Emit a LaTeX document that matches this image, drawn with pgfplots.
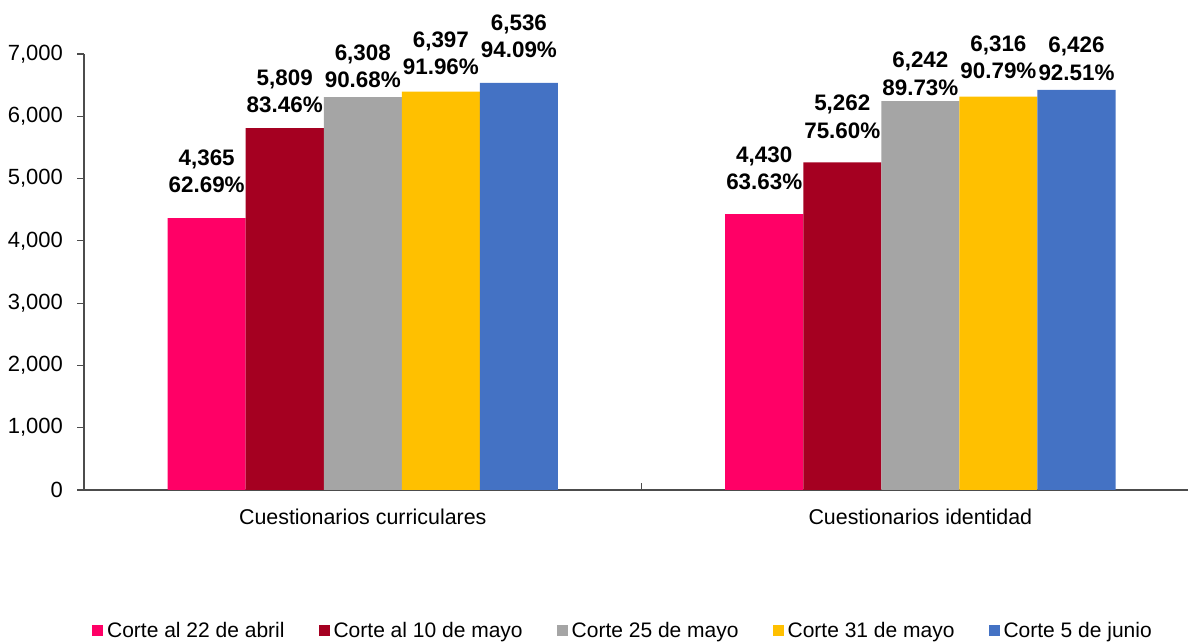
\documentclass[border=0pt]{standalone}
\usepackage{pgfplots}
\usepackage{pgfplotstable}
\pgfplotsset{compat=1.18}
\usepackage{fontspec}
\setmainfont{Liberation Sans}
\definecolor{cA}{HTML}{FF0066}
\definecolor{cB}{HTML}{A50021}
\definecolor{cC}{HTML}{A5A5A5}
\definecolor{cD}{HTML}{FFC000}
\definecolor{cE}{HTML}{4472C4}
\pgfplotstableread{
x y dy pct
-0.28 4365 23.5 62.69
0.72 4430 23 63.63
}\tA
\pgfplotstableread{
x y dy pct
-0.14 5809 18.5 83.46
0.86 5262 22.75 75.60
}\tB
\pgfplotstableread{
x y dy pct
0 6308 15.25 90.68
1 6242 13.75 89.73
}\tC
\pgfplotstableread{
x y dy pct
0.14 6397 19.25 91.96
1.14 6316 19.5 90.79
}\tD
\pgfplotstableread{
x y dy pct
0.28 6536 23.25 94.09
1.28 6426 15.5 92.51
}\tE
\pgfplotsset{
  mybar/.style={ybar, bar width=0.14, bar shift=0, draw=none,
    legend image code/.code={\fill[##1] (0pt,-2.75pt) rectangle (5.5pt,2.75pt);},
    point meta=y,
    visualization depends on={\thisrow{dy} \as \dy},
    visualization depends on={\thisrow{pct} \as \pct},
    nodes near coords={\pgfmathprintnumber{\pgfplotspointmeta}\\\pgfmathprintnumber[fixed,fixed zerofill,precision=2]{\pct}\%},
    every node near coord/.append style={anchor=center, yshift=\dy pt, align=center,
      font=\fontsize{11.2}{13.6}\selectfont\bfseries, text=black},
  },
}
\begin{document}
\begin{tikzpicture}
\useasboundingbox (0,0) rectangle (594pt,321pt);
\begin{axis}[
  at={(42pt,76pt)}, anchor=south west,
  scale only axis, width=552pt, height=218pt,
  xmin=-0.5, xmax=1.48, ymin=0, ymax=7000,
  clip=false,
  axis lines*=left,
  axis line style={black!70, line width=0.6pt},
  ytick={0,1000,...,7000},
  ytick align=outside, ytick pos=left,
  xtick align=inside, xtick pos=bottom,
  major tick length=3.5pt,
  tick style={black!70, line width=0.6pt},
  xtick={0.5}, xticklabels={},
  extra x ticks={0,1},
  extra x tick labels={Cuestionarios curriculares, Cuestionarios identidad},
  extra x tick style={major tick length=0pt, tick style={draw=none}},
  xticklabel style={font=\fontsize{10.7}{12}\selectfont, yshift=-6pt},
  yticklabel style={font=\fontsize{11}{13}\selectfont, xshift=-3.5pt},
  /pgf/number format/.cd, 1000 sep={,}, assume math mode=true, /pgfplots/.cd,
  legend columns=5,
  legend style={draw=none, at={(0.4891,-0.3234)}, anchor=center,
    font=\fontsize{10.5}{12}\selectfont,
    /tikz/every even column/.append style={column sep=15pt},
    inner sep=0pt},
  legend cell align=left,
]
\addplot[mybar, fill=cA] table[x=x,y=y] {\tA};
\addlegendentry{Corte al 22 de abril}
\addplot[mybar, fill=cB] table[x=x,y=y] {\tB};
\addlegendentry{Corte al 10 de mayo}
\addplot[mybar, fill=cC] table[x=x,y=y] {\tC};
\addlegendentry{Corte 25 de mayo}
\addplot[mybar, fill=cD] table[x=x,y=y] {\tD};
\addlegendentry{Corte 31 de mayo}
\addplot[mybar, fill=cE] table[x=x,y=y] {\tE};
\addlegendentry{Corte 5 de junio}
\end{axis}
\end{tikzpicture}
\end{document}
